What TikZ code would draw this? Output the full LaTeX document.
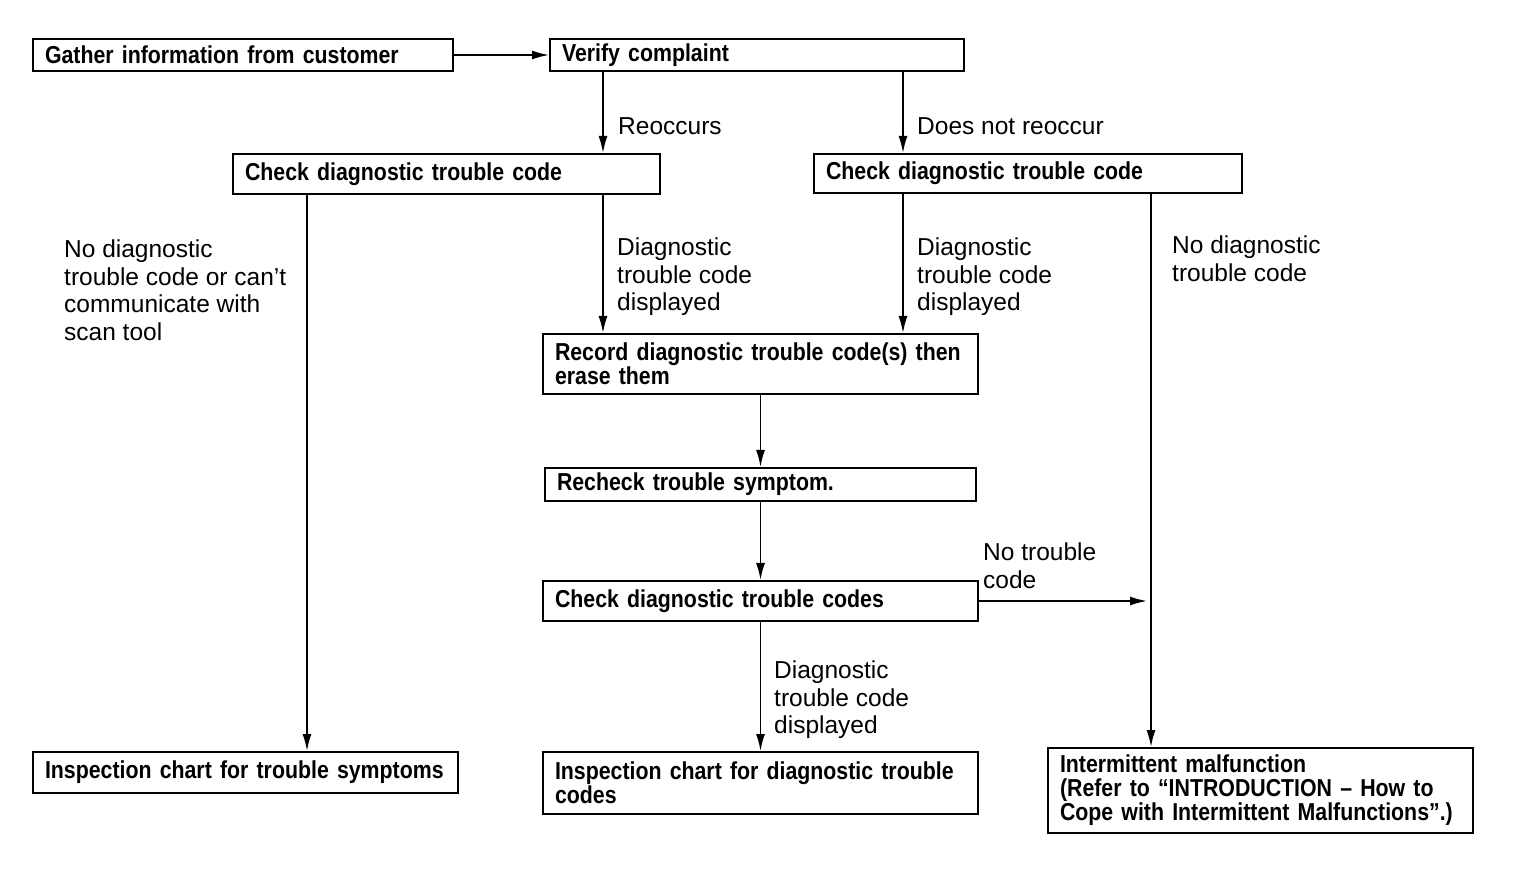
\documentclass[tikz,border=0pt]{standalone}
\usepackage{fontspec}
\setmainfont{Liberation Sans}
\newfontfamily\boxfont{Liberation Sans}[FakeStretch=0.87]
\usetikzlibrary{arrows.meta}

\begin{document}
\begin{tikzpicture}[x=1pt,y=1pt,
  box/.style={draw,line width=2pt,anchor=north west,align=left,inner xsep=12pt,inner ysep=0pt,font=\boxfont\bfseries\fontsize{24.5}{24}\selectfont},
  lbl/.style={anchor=north west,align=left,inner sep=0pt,font=\fontsize{24.5}{27.5}\selectfont},
  arr/.style={line width=1.7pt,-{Latex[length=17pt,width=9pt]}}]
\useasboundingbox (0,0) rectangle (1520,868);

\coordinate (colL) at (307,0);
\coordinate (colA) at (603,0);
\coordinate (colB) at (903,0);
\coordinate (colR) at (1151,0);

\node[box,text width=396pt,minimum height=32pt] (gather) at (32,830) {Gather information from customer};
\node[box,text width=390pt,minimum height=32pt] (verify) at (549,830) {Verify complaint};
\node[box,text width=403pt,minimum height=40pt] (dtcA) at (232,715) {Check diagnostic trouble code};
\node[box,text width=404pt,minimum height=39pt] (dtcB) at (813,715) {Check diagnostic trouble code};
\node[box,text width=411pt,minimum height=60pt] (record) at (542,535) {Record diagnostic trouble code(s) then\\erase them};
\node[box,text width=407pt,minimum height=33pt] (recheck) at (544,401) {Recheck trouble symptom.};
\node[box,text width=411pt,minimum height=40pt] (dtcC) at (542,288) {Check diagnostic trouble codes};
\node[box,text width=401pt,minimum height=41pt] (chartS) at (32,117) {Inspection chart for trouble symptoms};
\node[box,text width=411pt,minimum height=62pt] (chartD) at (542,117) {Inspection chart for diagnostic trouble\\codes};
\node[box,text width=401pt,minimum height=85pt] (interm) at (1047,121) {Intermittent malfunction\\(Refer to “INTRODUCTION – How to\\Cope with Intermittent Malfunctions”.)};

\draw[arr] (gather) -- (verify);
\draw[arr] (verify.south -| colA) -- (dtcA.north -| colA);
\draw[arr] (verify.south -| colB) -- (dtcB.north -| colB);
\draw[arr] (dtcA.south -| colA) -- (record.north -| colA);
\draw[arr] (dtcB.south -| colB) -- (record.north -| colB);
\draw[arr] (record) -- (recheck);
\draw[arr] (recheck) -- (dtcC);
\draw[arr] (dtcC) -- (chartD);
\draw[arr] (dtcA.south -| colL) -- (chartS.north -| colL);
\draw[arr] (dtcB.south -| colR) -- (interm.north -| colR);
\draw[arr,shorten >=4pt] (dtcC.east) -- (dtcC.east -| colR);

\node[lbl] (reocc) at (618,751) {Reoccurs};
\node[lbl] (noreocc) at (917,751) {Does not reoccur};
\node[lbl] (nodtcL) at (64,628) {No diagnostic\\trouble code or can’t\\communicate with\\scan tool};
\node[lbl] (dispA) at (617,630) {Diagnostic\\trouble code\\displayed};
\node[lbl] (dispB) at (917,630) {Diagnostic\\trouble code\\displayed};
\node[lbl] (nodtcR) at (1172,632) {No diagnostic\\trouble code};
\node[lbl] (notc) at (983,325) {No trouble\\code};
\node[lbl] (dispC) at (774,207) {Diagnostic\\trouble code\\displayed};
\end{tikzpicture}
\end{document}
